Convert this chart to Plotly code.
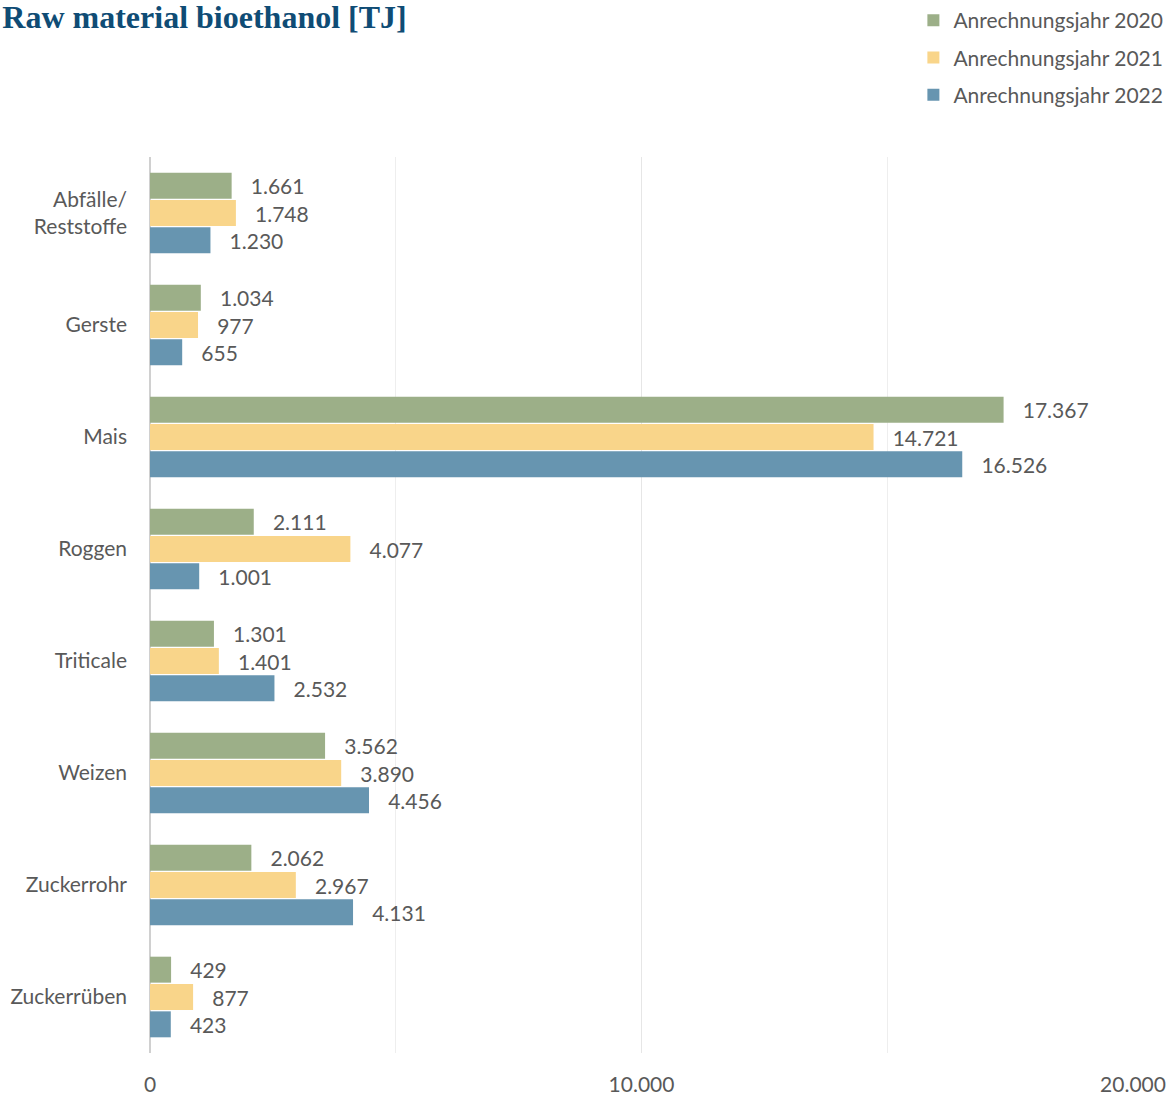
import plotly.graph_objects as go

categories = ["Abfälle/<br>Reststoffe", "Gerste", "Mais", "Roggen", "Triticale", "Weizen", "Zuckerrohr", "Zuckerrüben"]
series_names = ["Anrechnungsjahr 2020", "Anrechnungsjahr 2021", "Anrechnungsjahr 2022"]
values_2020 = [1661, 1034, 17367, 2111, 1301, 3562, 2062, 429]
values_2021 = [1748, 977, 14721, 4077, 1401, 3890, 2967, 877]
values_2022 = [1230, 655, 16526, 1001, 2532, 4456, 4131, 423]
tick_values = [0, 10000, 20000]

colors = ["#9caf88", "#f9d58a", "#6795b0"]
FONT = "Lato"
GREY = "#595959"

fig = go.Figure()
for i, (name, vals) in enumerate(zip(series_names, [values_2020, values_2021, values_2022])):
    fig.add_trace(go.Bar(
        y=categories, x=vals, name=name, orientation="h",
        marker=dict(color=colors[i], line=dict(width=0)),
        texttemplate="\u00a0\u00a0\u00a0%{x:,}", textposition="outside",
        textfont=dict(family=FONT, size=21, color=GREY),
        cliponaxis=False, legendgroup=name,
    ))

fig.update_layout(
    width=1168, height=1095,
    margin=dict(l=150, r=35, t=157, b=42, autoexpand=False),
    paper_bgcolor="white", plot_bgcolor="white",
    separators=",.",
    barmode="group", bargap=0.268, bargroupgap=0.05,
    title=dict(text="Raw material bioethanol [TJ]", x=0.002, xref="container", xanchor="left",
               y=1.0, yref="container", yanchor="top", pad=dict(l=0, t=6),
               font=dict(family="Liberation Serif", size=32, color="#0f4c75", weight="bold")),
    legend=dict(x=1.036, xref="paper", xanchor="right", y=1.0, yref="container", yanchor="top",
                font=dict(family=FONT, size=21, color=GREY), tracegroupgap=7,
                bgcolor="rgba(0,0,0,0)", itemwidth=30),
    showlegend=True,
    font=dict(family=FONT, color=GREY),
)
fig.update_xaxes(range=[0, 20000], tickvals=tick_values, showgrid=True, gridcolor="#e6e6e6",
                 gridwidth=1, zeroline=True, zerolinecolor="#d0d0d0", zerolinewidth=2,
                 tickfont=dict(family=FONT, size=21, color=GREY), tickformat=",",
                 ticklabelstandoff=17, automargin=False,
                 minor=dict(dtick=5000, showgrid=True, gridcolor="#eeeeee", gridwidth=1))
fig.update_yaxes(autorange="reversed", showgrid=False, tickfont=dict(family=FONT, size=21, color=GREY),
                 ticklabelstandoff=22, automargin=False)

fig.write_html("out.html", config={"displayModeBar": False},
               post_script="document.body.style.margin='0';")
